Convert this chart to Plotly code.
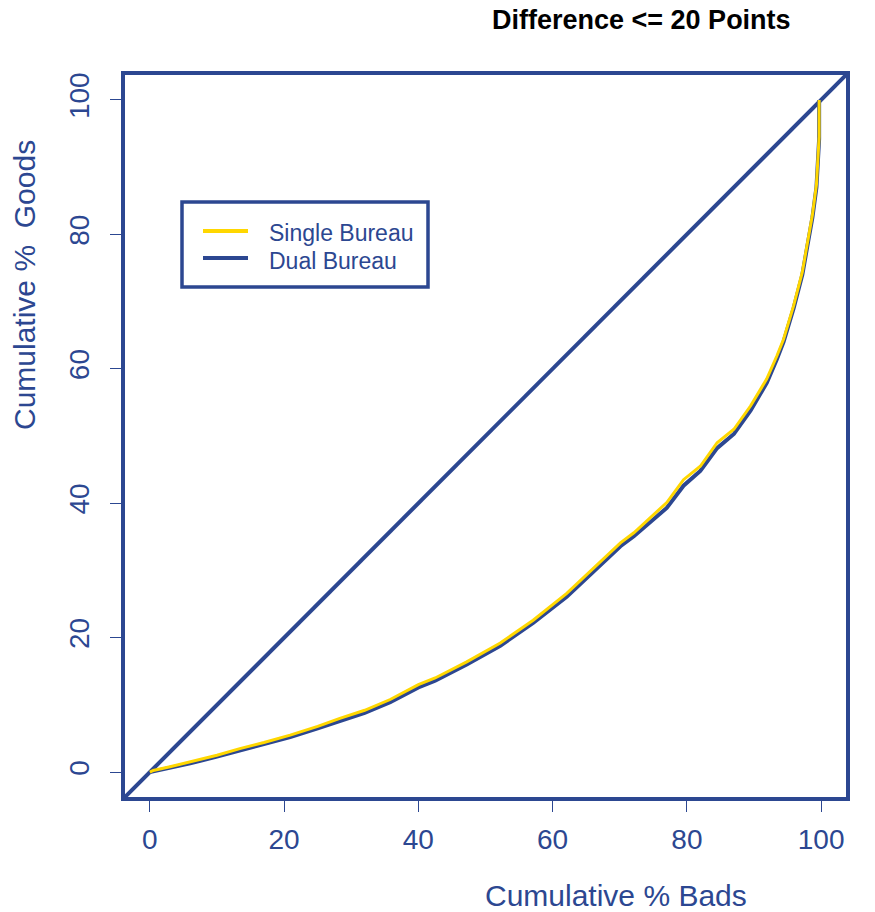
import plotly.graph_objects as go

NAVY = "#2C4791"
YELLOW = "#FFD700"
FONT = "Liberation Sans, Arial, sans-serif"

# Cumulative % Bads (x) and Cumulative % Goods (y)
bads_single = [0, 0.5, 3, 6, 10, 13.4, 17, 20.9, 25, 28.3, 32, 35.8, 37.3, 40, 42.5, 47.2, 52.2,
               57.1, 62.1, 67.1, 70.1, 72.1, 74.5, 77.0, 79.5, 82.0, 84.5, 87.0, 89.5, 91.9,
               93.4, 94.4, 95.9, 97.2, 97.9, 98.7, 99.3, 99.5, 99.7, 99.7]
goods_single = [0, 0.25, 0.8, 1.5, 2.5, 3.5, 4.4, 5.5, 6.8, 8.0, 9.2, 10.8, 11.6, 13.0, 14.0, 16.4,
                19.2, 22.6, 26.6, 31.3, 34.1, 35.6, 37.8, 40.1, 43.5, 45.5, 49.0, 51.0, 54.5, 58.5,
                61.9, 64.4, 69.4, 74.4, 78.4, 82.9, 87.4, 91.5, 94.5, 100]

bads_dual = bads_single
goods_dual = [0, 0.1, 0.6, 1.3, 2.3, 3.2, 4.1, 5.2, 6.5, 7.6, 8.8, 10.4, 11.2, 12.6, 13.6, 16.0,
              18.8, 22.2, 26.1, 30.8, 33.6, 35.1, 37.2, 39.3, 42.6, 44.8, 48.2, 50.3, 53.8, 57.9,
              61.4, 64.0, 69.0, 74.0, 78.0, 82.5, 87.0, 91.2, 94.2, 100]

diag = [-10, 110]
ticks = [0, 20, 40, 60, 80, 100]
tick_labels = ["0", "20", "40", "60", "80", "100"]

# full page canvas; plot area in page pixels: x 123..848, y 73..799
W, H = 875, 912
PL, PR, PT, PB = 123, 848, 73, 799
PW, PH = PR - PL, PB - PT


def px(x):
    return (x - PL) / PW


def py(y):
    return (PB - y) / PH


fig = go.Figure()
fig.add_trace(go.Scatter(x=diag, y=diag, mode="lines", line=dict(color=NAVY, width=4),
                         showlegend=False, hoverinfo="skip"))
fig.add_trace(go.Scatter(x=bads_dual, y=goods_dual, mode="lines", name="Dual Bureau",
                         line=dict(color=NAVY, width=4), showlegend=False))
fig.add_trace(go.Scatter(x=bads_single, y=goods_single, mode="lines", name="Single Bureau",
                         line=dict(color=YELLOW, width=3), showlegend=False))

axis_common = dict(range=[-4, 104], showgrid=False, zeroline=False, showline=False,
                   ticks="outside", ticklen=12, tickwidth=1, tickcolor=NAVY,
                   tickvals=ticks, ticktext=tick_labels,
                   tickfont=dict(family=FONT, size=28, color=NAVY))
fig.update_xaxes(**axis_common, ticklabelstandoff=3)
fig.update_yaxes(**axis_common, tickangle=-90, ticklabelstandoff=10)

shapes = [
    dict(type="rect", xref="paper", yref="paper", x0=0, y0=0, x1=1, y1=1,
         line=dict(color=NAVY, width=4), layer="above"),
    # legend box
    dict(type="rect", xref="paper", yref="paper",
         x0=px(182), x1=px(428), y0=py(287), y1=py(202),
         line=dict(color=NAVY, width=3.5), fillcolor="white", layer="above"),
    dict(type="line", xref="paper", yref="paper",
         x0=px(203), x1=px(248), y0=py(231), y1=py(231),
         line=dict(color=YELLOW, width=4), layer="above"),
    dict(type="line", xref="paper", yref="paper",
         x0=px(203), x1=px(248), y0=py(258), y1=py(258),
         line=dict(color=NAVY, width=4), layer="above"),
]

annotations = [
    dict(text="Single Bureau", xref="paper", yref="paper", x=px(267), y=py(233),
         xanchor="left", yanchor="middle", showarrow=False,
         font=dict(family=FONT, size=23, color=NAVY)),
    dict(text="Dual Bureau", xref="paper", yref="paper", x=px(267), y=py(261),
         xanchor="left", yanchor="middle", showarrow=False,
         font=dict(family=FONT, size=23, color=NAVY)),
    dict(text="<b>Difference &lt;= 20 Points</b>", xref="paper", yref="paper",
         x=px(641), y=py(20), xanchor="center", yanchor="middle",
         showarrow=False, font=dict(family=FONT, size=27, color="black")),
    dict(text="Cumulative % Bads", xref="paper", yref="paper",
         x=px(616), y=py(914), xanchor="center", yanchor="bottom",
         showarrow=False, font=dict(family=FONT, size=30, color=NAVY)),
    dict(text="Cumulative %  Goods", xref="paper", yref="paper",
         x=px(24), y=py(285), xanchor="center", yanchor="middle",
         textangle=-90, showarrow=False, font=dict(family=FONT, size=30, color=NAVY)),
]

fig.update_layout(width=W, height=H,
                  margin=dict(l=PL, r=W - PR, t=PT, b=H - PB),
                  plot_bgcolor="white", paper_bgcolor="white",
                  shapes=shapes, annotations=annotations, showlegend=False)

fig.write_html("out.html", config={"displayModeBar": False},
               post_script="document.body.style.margin='0px';document.body.style.overflow='hidden';")
